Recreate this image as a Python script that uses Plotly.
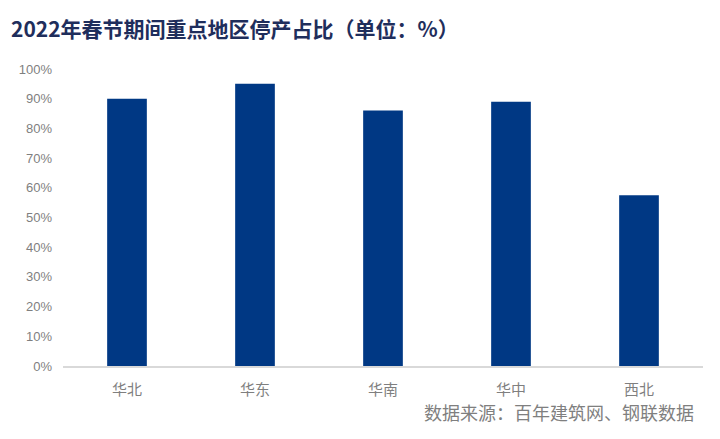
import plotly.graph_objects as go

regions = ["华北", "华东", "华南", "华中", "西北"]
shutdown_pct = [90, 95, 86, 89, 57.5]
y_ticks = [0, 10, 20, 30, 40, 50, 60, 70, 80, 90, 100]
y_tick_labels = [f"{v}%" for v in y_ticks]

title_text = "2022年春节期间重点地区停产占比（单位：%）"
source_text = "数据来源：百年建筑网、钢联数据"

fig = go.Figure(go.Bar(
    x=regions, y=shutdown_pct,
    marker=dict(color="#003884", line=dict(width=0)),
    width=0.31,
))

fig.update_layout(
    width=720, height=439,
    margin=dict(l=63, r=17, t=69, b=73),
    paper_bgcolor="white", plot_bgcolor="white",
    showlegend=False,
    font=dict(family="Noto Sans CJK SC, Arial", color="#7F7F7F"),
    title=dict(
        text="<b>" + title_text + "</b>",
        x=11/720, xanchor="left", xref="container",
        y=1 - 30/439, yanchor="middle", yref="container",
        font=dict(family="Noto Sans CJK SC", size=21, color="#1F2E5C"),
    ),
    xaxis=dict(
        showgrid=False, showline=True, linecolor="#D9D9D9", linewidth=2,
        ticks="", tickfont=dict(size=15, color="#7F7F7F", family="Noto Sans CJK SC"),
        ticklabelstandoff=9,
    ),
    yaxis=dict(
        range=[0, 100], tickvals=y_ticks, ticktext=y_tick_labels,
        showgrid=False, zeroline=False, showline=False,
        tickfont=dict(size=13, color="#7F7F7F", family="Liberation Sans, Arial"),
        ticklabelstandoff=10,
    ),
    annotations=[dict(
        text=source_text, xref="paper", yref="paper",
        x=(696-63)/640, y=-(412-366)/297, xanchor="right", yanchor="middle",
        showarrow=False,
        font=dict(size=18, color="#7F7F7F", family="Noto Sans CJK SC"),
    )],
)

fig.write_html("out.html")
